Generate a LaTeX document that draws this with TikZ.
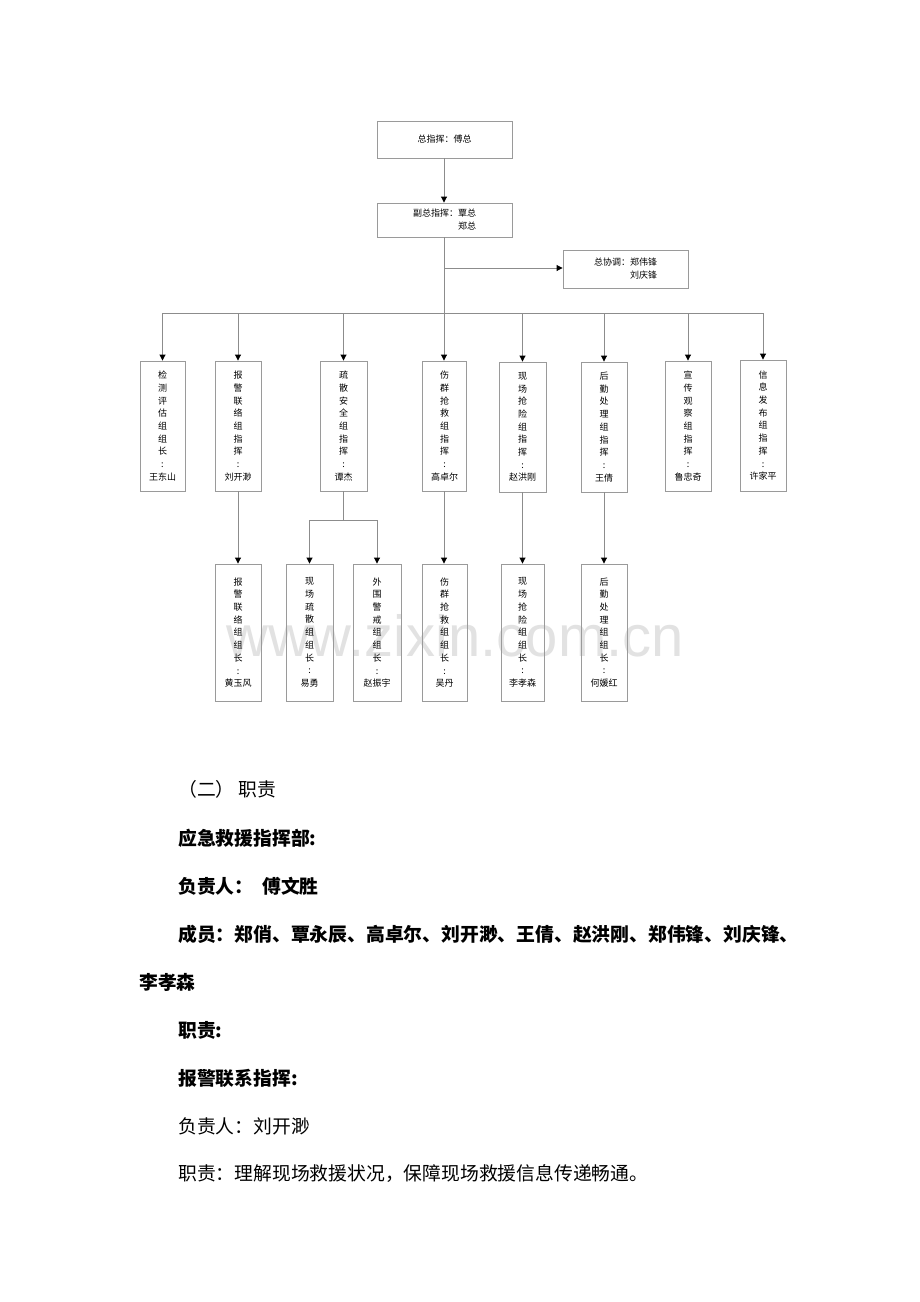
\documentclass[tikz,border=0pt]{standalone}
\usepackage{fontspec}
\newfontfamily\cjk{Noto Sans CJK SC}
\newfontfamily\wmfont{Liberation Sans}
\usetikzlibrary{arrows.meta}
\definecolor{linegray}{HTML}{8C8C8C}
\definecolor{boxgray}{HTML}{9A9A9A}
\definecolor{wmgray}{HTML}{E2E2E2}
\tikzset{
  orgbox/.style={draw=boxgray, line width=0.9pt, inner sep=0pt, align=center,
    font=\fontsize{9}{12.7}\selectfont\cjk},
  conn/.style={draw=linegray, line width=0.9pt, -{Triangle[color=black,length=6pt,width=6pt]}},
  plainline/.style={draw=linegray, line width=0.9pt},
  body/.style={anchor=west, inner sep=0pt, font=\fontsize{18.8}{22}\selectfont\cjk},
  bodyb/.style={anchor=west, inner sep=0pt, font=\fontsize{18.8}{22}\selectfont\cjk\bfseries},
}
\begin{document}
\begin{tikzpicture}[x=1pt,y=-1pt]
\useasboundingbox (0,0) rectangle (920,1302);
\fill[white] (0,0) rectangle (920,1302);

% watermark
\node[text=wmgray, inner sep=0pt, font=\fontsize{58}{58}\selectfont\wmfont] (wm) at (455,636) {www.zixin.com.cn};

% top boxes
\node[orgbox, minimum width=135pt, minimum height=37pt] (t1) at (444.5,139.5) {总指挥：傅总};
\node[orgbox, minimum width=135pt, minimum height=34pt, font=\fontsize{9}{13}\selectfont\cjk, align=left] (t2) at (444.5,220) {副总指挥：覃总\\\phantom{副总指挥：}郑总};
\node[orgbox, minimum width=125pt, minimum height=38pt, font=\fontsize{9}{13}\selectfont\cjk, align=left] (t3) at (625.5,269) {总协调：郑伟锋\\\phantom{总协调：}刘庆锋};

% first row
\node[orgbox, minimum width=45pt, minimum height=130pt] (b1) at (162.5,426) {检\\测\\评\\估\\组\\组\\长\\:\\王东山};
\node[orgbox, minimum width=46pt, minimum height=130pt] (b2) at (238,426) {报\\警\\联\\络\\组\\指\\挥\\:\\刘开渺};
\node[orgbox, minimum width=47pt, minimum height=130pt] (b3) at (343.5,426) {疏\\散\\安\\全\\组\\指\\挥\\:\\谭杰};
\node[orgbox, minimum width=44pt, minimum height=130pt] (b4) at (444.5,426) {伤\\群\\抢\\救\\组\\指\\挥\\:\\高卓尔};
\node[orgbox, minimum width=47pt, minimum height=130pt] (b5) at (522.5,427) {现\\场\\抢\\险\\组\\指\\挥\\:\\赵洪刚};
\node[orgbox, minimum width=46pt, minimum height=130pt] (b6) at (604,427) {后\\勤\\处\\理\\组\\指\\挥\\:\\王倩};
\node[orgbox, minimum width=46pt, minimum height=130pt] (b7) at (688,426) {宣\\传\\观\\察\\组\\指\\挥\\:\\鲁忠奇};
\node[orgbox, minimum width=46pt, minimum height=131pt] (b8) at (763,425.5) {信\\息\\发\\布\\组\\指\\挥\\:\\许家平};

% second row
\node[orgbox, minimum width=46pt, minimum height=137pt] (c1) at (238,632.5) {报\\警\\联\\络\\组\\组\\长\\:\\黄玉风};
\node[orgbox, minimum width=47pt, minimum height=137pt] (c2) at (309.5,632.5) {现\\场\\疏\\散\\组\\组\\长\\:\\易勇};
\node[orgbox, minimum width=48pt, minimum height=137pt] (c3) at (377,632.5) {外\\围\\警\\戒\\组\\组\\长\\:\\赵振宇};
\node[orgbox, minimum width=45pt, minimum height=137pt] (c4) at (444.5,632.5) {伤\\群\\抢\\救\\组\\组\\长\\:\\吴丹};
\node[orgbox, minimum width=43pt, minimum height=137pt] (c5) at (522.5,632.5) {现\\场\\抢\\险\\组\\组\\长\\:\\李孝森};
\node[orgbox, minimum width=46pt, minimum height=137pt] (c6) at (604,632.5) {后\\勤\\处\\理\\组\\组\\长\\:\\何媛红};

% connectors
\coordinate (bus) at (444,313);
\coordinate (side) at (444,268);
\coordinate (split) at (343.5,520);
\draw[conn] (t1.south -| bus) -- (t2.north -| bus);
\draw[conn] (t2.south -| bus) -- (b4.north -| bus);
\draw[conn] (side) -- (t3.west |- side);
\draw[plainline] (b1.north |- bus) -- (b8.north |- bus);
\foreach \b in {b1,b2,b3,b5,b6,b7,b8}{
  \draw[conn] (\b.north |- bus) -- (\b.north);
}
\draw[conn] (b2.south) -- (c1.north);
\draw[plainline] (b3.south) -- (split);
\draw[plainline] (c2.north |- split) -- (c3.north |- split);
\draw[conn] (c2.north |- split) -- (c2.north);
\draw[conn] (c3.north |- split) -- (c3.north);
\draw[conn] (b4.south -| bus) -- (c4.north -| bus);
\draw[conn] (b5.south) -- (c5.north);
\draw[conn] (b6.south) -- (c6.north);

% body text
\node[body] (p1) at (178,789) {（二）\hspace{4pt}职责};
\node[bodyb] (p2) at (178,838) {应急救援指挥部:};
\node[bodyb] (p3) at (178,886) {负责人：\hspace{9pt}傅文胜};
\node[bodyb] (p4) at (178,934) {成员：郑俏、覃永辰、高卓尔、刘开渺、王倩、赵洪刚、郑伟锋、刘庆锋、};
\node[bodyb] (p5) at (139,982) {李孝森};
\node[bodyb] (p6) at (178,1030) {职责:};
\node[bodyb] (p7) at (178,1078) {报警联系指挥:};
\node[body] (p8) at (178,1126) {负责人：刘开渺};
\node[body] (p9) at (178,1174) {职责：理解现场救援状况，保障现场救援信息传递畅通。};
\end{tikzpicture}
\end{document}
